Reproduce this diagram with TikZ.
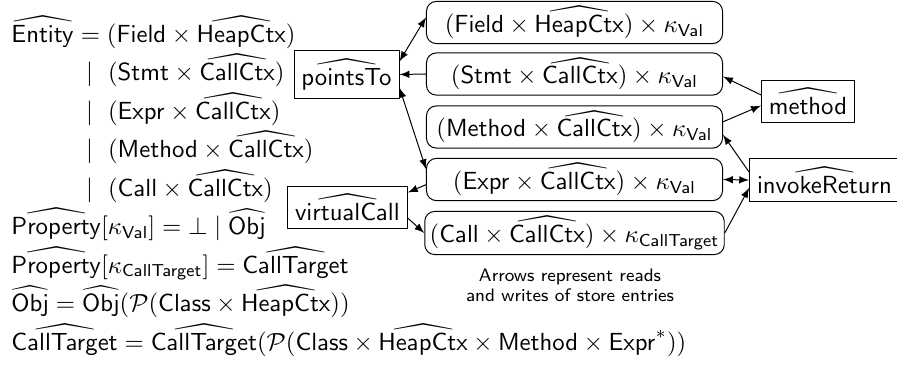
\documentclass[tikz,border=0pt]{standalone}
\usepackage{amsmath}
\usepackage{amssymb}
\usepackage{tikz}

\newlength{\hatwd}
\newcommand{\hsf}[1]{%
  \settowidth{\hatwd}{$\mathsf{#1}$}%
  \ifdim\hatwd>23.5pt \hatwd=23.5pt \fi
  \mathord{\ooalign{\hidewidth$\widehat{\vphantom{\mathsf{#1}}\kern\hatwd}$\hidewidth\cr$\mathsf{#1}$\cr}}}
\newcommand{\ksf}[1]{\kappa_{\mathsf{#1}}}

\tikzset{
  defn/.style={anchor=base west, inner sep=0pt},
  storebox/.style={draw, rounded corners=4pt, minimum width=119.6pt, minimum height=16.6pt, inner xsep=2pt, inner ysep=2pt},
  funbox/.style={draw, inner xsep=3pt, inner ysep=3.3pt},
}

\begin{document}
\begin{tikzpicture}[x=0.404pt, y=-0.404pt, >=latex]
\useasboundingbox (0,0) rectangle (897,368);
% domain definitions
\node[defn] (ent) at (11,42) {$\hsf{Entity} = (\mathsf{Field} \times \hsf{HeapCtx})$};
\node[defn] (entStmt) at (85.6,80.5) {$\mid\ (\mathsf{Stmt} \times \hsf{CallCtx})$};
\node[defn] (entExpr) at (85.6,119) {$\mid\ (\mathsf{Expr} \times \hsf{CallCtx})$};
\node[defn] (entMethod) at (85.6,157.5) {$\mid\ (\mathsf{Method} \times \hsf{CallCtx})$};
\node[defn] (entCall) at (85.6,196) {$\mid\ (\mathsf{Call} \times \hsf{CallCtx})$};
\node[defn] (propVal) at (11,234.5) {$\hsf{Property}[\ksf{Val}] = \bot \mid \hsf{Obj}$};
\node[defn] (propTarget) at (11,273) {$\hsf{Property}[\ksf{CallTarget}] = \hsf{CallTarget}$};
\node[defn] (objDef) at (11,311.5) {$\hsf{Obj} = \hsf{Obj}(\mathcal{P}(\mathsf{Class} \times \hsf{HeapCtx}))$};
\node[defn] (targetDef) at (11,350) {$\hsf{CallTarget} = \hsf{CallTarget}(\mathcal{P}(\mathsf{Class} \times \hsf{HeapCtx} \times \mathsf{Method} \times \mathsf{Expr}^*))$};
% store entries
\node[storebox] (fieldBox) at (574.5,22.5) {$(\mathsf{Field} \times \hsf{HeapCtx}) \times \ksf{Val}$};
\node[storebox] (stmtBox) at (574.5,74) {$(\mathsf{Stmt} \times \hsf{CallCtx}) \times \ksf{Val}$};
\node[storebox] (methodBox) at (574.5,127) {$(\mathsf{Method} \times \hsf{CallCtx}) \times \ksf{Val}$};
\node[storebox] (exprBox) at (574.5,179.5) {$(\mathsf{Expr} \times \hsf{CallCtx}) \times \ksf{Val}$};
\node[storebox] (callBox) at (574.5,233) {$(\mathsf{Call} \times \hsf{CallCtx}) \times \ksf{CallTarget}$};
% analysis functions
\node[funbox] (pointsTo) at (346.5,74.5) {$\hsf{pointsTo}$};
\node[funbox] (virtualCall) at (347.5,207.5) {$\hsf{virtualCall}$};
\node[funbox] (method) at (808,101.5) {$\hsf{method}$};
\node[funbox] (invokeReturn) at (824.5,180) {$\hsf{invokeReturn}$};
\node[align=center, font=\fontsize{7.3}{8.1}\selectfont\sffamily] (caption) at (570,285) {Arrows represent reads\\and writes of store entries};
% reads and writes
\draw[<->] (pointsTo.14) -- (fieldBox.178);
\draw[->] (stmtBox.west) -- (pointsTo.east);
\draw[<->] (pointsTo.-14) -- (exprBox.176);
\draw[->] (exprBox.182) -- (virtualCall.14);
\draw[->] (virtualCall.-10) -- (callBox.west);
\draw[->] (method.172) -- (stmtBox.-1);
\draw[->] (methodBox.2) -- (method.185);
\draw[->] (invokeReturn.174) -- (methodBox.-3);
\draw[<->] (exprBox.east) -- (invokeReturn.west);
\draw[->] (callBox.east) -- (invokeReturn.186);
\end{tikzpicture}
\end{document}
